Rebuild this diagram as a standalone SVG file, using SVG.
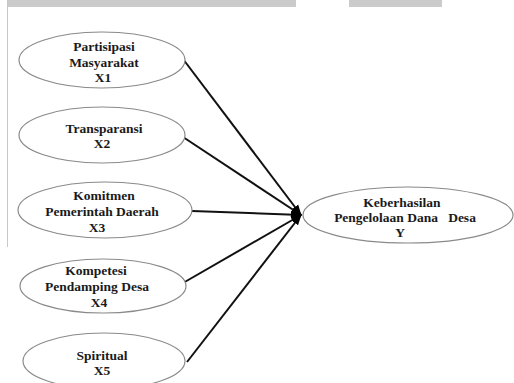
<svg xmlns="http://www.w3.org/2000/svg" width="514" height="383" viewBox="0 0 514 383">
<style>
.node ellipse{fill:#fff;stroke:#8a8a8a;stroke-width:1.2}
.node text{font-family:"Liberation Serif","Times New Roman",serif;font-weight:bold;font-size:13.5px;fill:#1a1a1a;text-anchor:middle}
.edges line{stroke:#111;stroke-width:2;marker-end:url(#arr)}
.band{fill:#cbcbcb}
</style>
<defs>
<marker id="arr" markerWidth="11" markerHeight="10" refX="10" refY="5" orient="auto" markerUnits="userSpaceOnUse">
<path d="M0,1 L11,5 L0,9 Z" fill="#000"/>
</marker>
</defs>
<rect width="514" height="383" fill="#fff"/>
<rect class="band" x="7" y="0" width="289" height="7"/>
<rect class="band" x="349" y="0" width="93" height="7"/>
<line x1="7.5" y1="0" x2="7.5" y2="247" stroke="#c8c8c8" stroke-width="1"/>
<g class="edges">
<line x1="183" y1="59" x2="301" y2="215"/>
<line x1="183" y1="137" x2="301" y2="215"/>
<line x1="192" y1="211" x2="301" y2="215"/>
<line x1="183" y1="283" x2="301" y2="215"/>
<line x1="187" y1="362" x2="301" y2="215"/>
</g>
<g id="x1" class="node">
<ellipse cx="102" cy="60" rx="83" ry="28"/>
<text x="104" y="51">Partisipasi</text>
<text x="104" y="67">Masyarakat</text>
<text x="103" y="82">X1</text>
</g>
<g id="x2" class="node">
<ellipse cx="102" cy="135" rx="83" ry="28"/>
<text x="104" y="133">Transparansi</text>
<text x="102" y="148">X2</text>
</g>
<g id="x3" class="node">
<ellipse cx="105" cy="210" rx="87" ry="28"/>
<text x="104" y="200">Komitmen</text>
<text x="102" y="216">Pemerintah Daerah</text>
<text x="97" y="232">X3</text>
</g>
<g id="x4" class="node">
<ellipse cx="103" cy="286" rx="83" ry="27"/>
<text x="96" y="275">Kompetesi</text>
<text x="97" y="291">Pendamping Desa</text>
<text x="99" y="307">X4</text>
</g>
<g id="x5" class="node">
<ellipse cx="104" cy="361" rx="81" ry="28"/>
<text x="102" y="360">Spiritual</text>
<text x="102" y="375">X5</text>
</g>
<g id="y" class="node">
<ellipse cx="408" cy="215" rx="105" ry="28"/>
<text x="402" y="207">Keberhasilan</text>
<text x="405" y="222" xml:space="preserve">Pengelolaan Dana   Desa</text>
<text x="400" y="237">Y</text>
</g>
</svg>
